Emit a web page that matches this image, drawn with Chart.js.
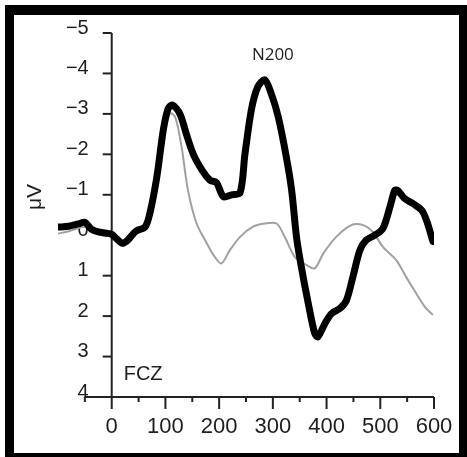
<!DOCTYPE html>
<html>
<head>
<meta charset="utf-8">
<script src="https://cdn.jsdelivr.net/npm/chart.js@4/dist/chart.umd.min.js"></script>
<style>
html,body{margin:0;padding:0;background:#fff;}
#wrap{position:relative;width:467px;height:457px;}
</style>
</head>
<body>
<div id="wrap"><canvas id="c" width="467" height="457"></canvas></div>
<script>
// ---- data ----
const blackTimes  = [-100,-80,-62,-50,-38,-25,-10,0,10,20,30,45,62,71,84,96,105,113,127,139,152,170,183,195,208,223,239,248,260,272,285,297,310,325,335,344,353,366,378,384,397,409,425,437,449,462,474,490,505,518,527,533,545,561,577,586,598];
const blackValues = [-0.2,-0.22,-0.28,-0.32,-0.15,-0.08,-0.05,-0.02,0.1,0.2,0.12,-0.1,-0.2,-0.54,-1.44,-2.6,-3.13,-3.22,-3.0,-2.5,-2.0,-1.57,-1.36,-1.3,-0.95,-1.0,-1.05,-2.0,-3.1,-3.67,-3.84,-3.5,-2.93,-1.94,-1.11,0.04,0.78,1.69,2.43,2.51,2.18,1.94,1.81,1.61,1.03,0.37,0.12,0.0,-0.17,-0.7,-1.11,-1.1,-0.91,-0.78,-0.62,-0.37,0.15];
const grayTimes   = [-100,-80,-53,-35,-20,0,15,30,53,71,84,96,108,118,130,142,158,177,190,204,220,239,263,285,307,322,341,363,378,394,418,446,468,486,505,530,548,567,583,598];
const grayValues  = [-0.04,-0.1,-0.2,-0.18,-0.1,0.02,0.16,0.05,-0.2,-0.37,-1.36,-2.43,-3.01,-2.93,-2.19,-1.11,-0.29,0.2,0.5,0.7,0.37,0.04,-0.21,-0.29,-0.29,0.04,0.54,0.74,0.82,0.45,0.04,-0.25,-0.25,-0.08,0.29,0.62,1.03,1.44,1.77,1.97];
const yTicks      = [-5,-4,-3,-2,-1,0,1,2,3,4];
const xTicks      = [-50,0,50,100,150,200,250,300,350,400,450,500,550,600];
const xLabels     = [0,100,200,300,400,500,600];
const yTitle = 'μV';
const peakLabel = 'N200';
const siteLabel = 'FCZ';

const toPts = (t, v) => t.map((x, i) => ({x: x, y: v[i]}));
const fmt = v => (v < 0 ? '\u2212' + Math.abs(v) : String(v));

const axesPlugin = {
  id: 'erpAxes',
  beforeDraw(chart) {
    const ctx = chart.ctx;
    ctx.save();
    ctx.fillStyle = '#fff';
    ctx.fillRect(0, 0, chart.width, chart.height);
    ctx.fillStyle = '#000';
    ctx.fillRect(5, 5, 462, 10);
    ctx.fillRect(5, 5, 9, 452);
    ctx.fillRect(459, 5, 8, 452);
    ctx.fillRect(5, 453, 462, 4);
    ctx.restore();
  },
  beforeDatasetsDraw(chart) {
    const ctx = chart.ctx, xs = chart.scales.x, ys = chart.scales.y;
    const x0 = xs.getPixelForValue(0);
    const yBot = ys.getPixelForValue(4);
    ctx.save();
    ctx.strokeStyle = '#222';
    ctx.fillStyle = '#1e1e1e';
    ctx.lineWidth = 2;
    // y axis
    ctx.beginPath();
    ctx.moveTo(x0, ys.getPixelForValue(-5));
    ctx.lineTo(x0, yBot);
    ctx.stroke();
    ctx.font = '20px "Liberation Sans", Arial, sans-serif';
    ctx.textAlign = 'right';
    ctx.textBaseline = 'middle';
    yTicks.forEach(v => {
      const py = ys.getPixelForValue(v);
      ctx.beginPath();
      ctx.moveTo(x0 - 9, py);
      ctx.lineTo(x0, py);
      ctx.stroke();
      ctx.fillText(fmt(v), x0 - 23, py - 5);
    });
    // x axis
    ctx.beginPath();
    ctx.moveTo(xs.getPixelForValue(-50), yBot);
    ctx.lineTo(xs.getPixelForValue(600), yBot);
    ctx.stroke();
    xTicks.forEach(v => {
      const px = xs.getPixelForValue(v);
      const len = (v % 100 === 0) ? 12 : 5;
      ctx.beginPath();
      ctx.moveTo(px, yBot);
      ctx.lineTo(px, yBot + len);
      ctx.stroke();
    });
    ctx.font = '22px "Liberation Sans", Arial, sans-serif';
    ctx.textAlign = 'center';
    xLabels.forEach(v => {
      ctx.fillText(String(v), xs.getPixelForValue(v), yBot + 30);
    });
    // titles / annotations
    ctx.font = '21px "Liberation Sans", Arial, sans-serif';
    ctx.save();
    ctx.translate(35, 197);
    ctx.rotate(-Math.PI / 2);
    ctx.fillText(yTitle, 0, 0);
    ctx.restore();
    ctx.font = '17px "Open Sans", sans-serif';
    ctx.fillText(peakLabel, xs.getPixelForValue(300), 55);
    ctx.font = '20px "Liberation Sans", Arial, sans-serif';
    ctx.textAlign = 'left';
    ctx.fillText(siteLabel, x0 + 12, 374);
    ctx.restore();
  }
};

new Chart(document.getElementById('c'), {
  type: 'line',
  data: {
    datasets: [
      {
        data: toPts(blackTimes, blackValues),
        borderColor: '#000',
        borderWidth: 7,
        pointRadius: 0,
        tension: 0.3,
        borderCapStyle: 'round',
        borderJoinStyle: 'round',
        order: 0
      },
      {
        data: toPts(grayTimes, grayValues),
        borderColor: '#a0a0a0',
        borderWidth: 2,
        pointRadius: 0,
        tension: 0.3,
        order: 1
      }
    ]
  },
  options: {
    responsive: false,
    animation: false,
    events: [],
    layout: { padding: { left: 58, right: 33, top: 33, bottom: 60 } },
    plugins: { legend: { display: false }, tooltip: { enabled: false } },
    scales: {
      x: { type: 'linear', min: -100, max: 600, display: false },
      y: { type: 'linear', min: -5, max: 4, reverse: true, display: false }
    }
  },
  plugins: [axesPlugin]
});
</script>
</body>
</html>
